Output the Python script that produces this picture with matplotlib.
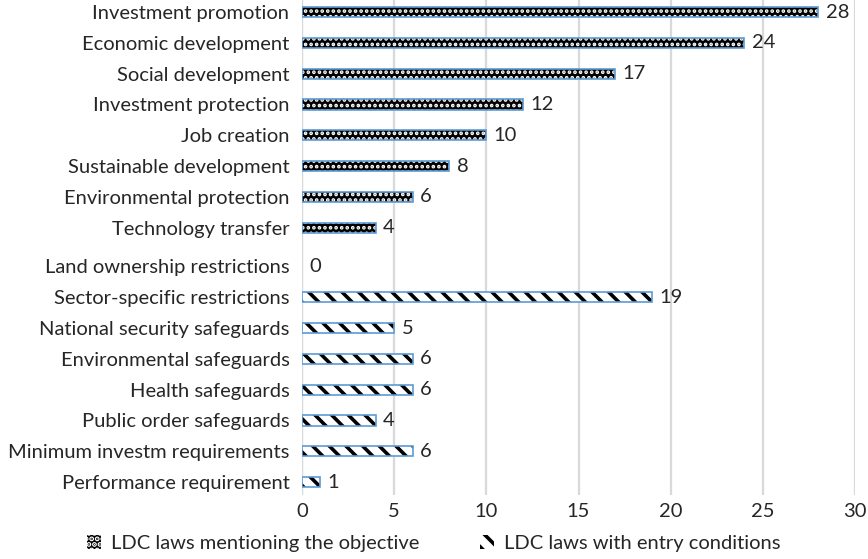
import matplotlib.pyplot as plt
from matplotlib.patches import Patch
import numpy as np

plt.rcParams['font.family'] = ['Lato', 'DejaVu Sans']

objectives = ["Investment promotion", "Economic development", "Social development",
              "Investment protection", "Job creation", "Sustainable development",
              "Environmental protection", "Technology transfer"]
objective_counts = [28, 24, 17, 12, 10, 8, 6, 4]

conditions = ["Land ownership restrictions", "Sector-specific restrictions",
              "National security safeguards", "Environmental safeguards",
              "Health safeguards", "Public order safeguards",
              "Minimum investm requirements", "Performance requirement"]
condition_counts = [0, 19, 5, 6, 6, 4, 6, 1]

x_ticks = [0, 5, 10, 15, 20, 25, 30]

edge_blue = "#5B9BD5"
text_col = "#262626"
gap = 0.26
bar_h = 0.33
fs = 14.5

pos_obj = np.arange(len(objectives))
pos_con = np.arange(len(conditions)) + len(objectives) + gap

fig = plt.figure(figsize=(8.68, 5.59), dpi=100)
ax = fig.add_axes([302 / 868, 64 / 559, 553 / 868, 495 / 559])

# objective bars: black with white dots
plt.rcParams['hatch.linewidth'] = 1.8
ax.barh(pos_obj, objective_counts, height=bar_h, color="black",
        hatch="...", edgecolor="white", linewidth=0, zorder=3)
h_obj = Patch(facecolor="black", hatch="...", edgecolor="white", linewidth=0)
ax.barh(pos_obj, objective_counts, height=bar_h, fill=False,
        edgecolor=edge_blue, linewidth=1.2, zorder=4)

# entry condition bars: white with black diagonal dashes
plt.rcParams['hatch.linewidth'] = 2.6
ax.barh(pos_con, condition_counts, height=bar_h, color="white",
        hatch="\\\\", edgecolor="black", linewidth=0, zorder=3)
h_con = Patch(facecolor="white", hatch="\\\\", edgecolor="black", linewidth=0)
ax.barh(pos_con, condition_counts, height=bar_h, fill=False,
        edgecolor=edge_blue, linewidth=[1.2 if v > 0 else 0 for v in condition_counts],
        zorder=4)

for p, v in zip(pos_obj, objective_counts):
    ax.text(v + 0.4, p, str(v), va="center", ha="left", fontsize=fs, color=text_col)
for p, v in zip(pos_con, condition_counts):
    ax.text(v + 0.4, p, str(v), va="center", ha="left", fontsize=fs, color=text_col)

ax.set_yticks(list(pos_obj) + list(pos_con))
ax.set_yticklabels(objectives + conditions, fontsize=fs, color=text_col)
ax.set_xticks(x_ticks)
ax.set_xticklabels([str(t) for t in x_ticks], fontsize=fs, color=text_col)
ax.set_xlim(0, 30)
ax.set_ylim(15 + gap + 0.42, -0.39)
ax.tick_params(length=0, pad=9)
ax.tick_params(axis="x", pad=6)
ax.xaxis.grid(True, color="#D9D9D9", linewidth=1.6, zorder=0)
ax.set_axisbelow(True)
for s in ax.spines.values():
    s.set_visible(False)
ax.axvline(0, color="#D9D9D9", linewidth=1.6, zorder=1)

fig.legend([h_obj, h_con], ["LDC laws mentioning the objective", "LDC laws with entry conditions"],
           loc="center", bbox_to_anchor=(0.5, 0.028), ncol=2, frameon=False,
           fontsize=fs, handlelength=0.7, handleheight=0.7, handletextpad=0.5,
           columnspacing=3, labelcolor=text_col)

fig.savefig("out.png", dpi=100)
